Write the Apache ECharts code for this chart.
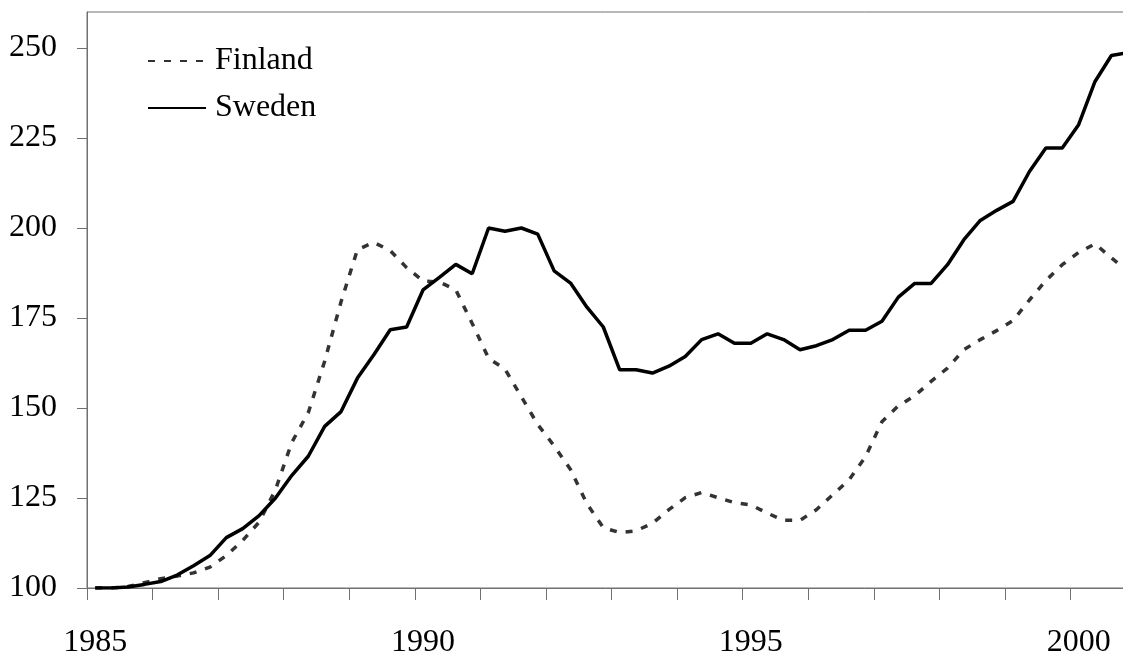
<!DOCTYPE html>
<html>
<head>
<meta charset="utf-8">
<script src="https://cdn.jsdelivr.net/npm/echarts@6/dist/echarts.min.js"></script>
<style>
html,body{margin:0;padding:0;background:#fff;}
#chart{width:1123px;height:659px;}
</style>
</head>
<body>
<div id="chart"></div>
<script>
// Quarterly categories 1985Q1 - 2000Q4
const quarters = [
'1985Q1','1985Q2','1985Q3','1985Q4','1986Q1','1986Q2','1986Q3','1986Q4',
'1987Q1','1987Q2','1987Q3','1987Q4','1988Q1','1988Q2','1988Q3','1988Q4',
'1989Q1','1989Q2','1989Q3','1989Q4','1990Q1','1990Q2','1990Q3','1990Q4',
'1991Q1','1991Q2','1991Q3','1991Q4','1992Q1','1992Q2','1992Q3','1992Q4',
'1993Q1','1993Q2','1993Q3','1993Q4','1994Q1','1994Q2','1994Q3','1994Q4',
'1995Q1','1995Q2','1995Q3','1995Q4','1996Q1','1996Q2','1996Q3','1996Q4',
'1997Q1','1997Q2','1997Q3','1997Q4','1998Q1','1998Q2','1998Q3','1998Q4',
'1999Q1','1999Q2','1999Q3','1999Q4','2000Q1','2000Q2','2000Q3','2000Q4'
];
const xTickLabels = ['1985','1990','1995','2000'];
const yTicks = [100,125,150,175,200,225,250];

const finland = [
100,100,100.4,101.5,102.6,103.3,104.2,105.8,
109,113.2,118.3,127.3,140.5,148.7,163,179.5,
194,196,193.7,189,185.3,185,182.8,173.5,
163.8,160.8,153.1,145.4,139.5,132.9,123.4,116.75,
115.4,115.9,118,121.75,125.1,126.5,125.1,123.7,
123.1,120.8,118.8,118.8,121.75,125.9,130.1,136.5,
146.2,150.6,153.4,157.4,161.1,166.2,169,171.5,
174.3,180,185.4,189.8,193.2,195.6,191.7,188
];
const sweden = [
100,100,100.3,101,101.8,103.6,106.2,109,
114,116.5,120.1,125,131.3,136.6,144.9,149,
158.3,164.8,171.75,172.5,182.8,186.3,189.9,187.3,
200,199.1,200,198.3,188.1,184.7,178,172.5,
160.6,160.6,159.7,161.6,164.3,169,170.6,168,
168,170.6,169,166.2,167.3,169,171.6,171.6,
174.1,180.8,184.6,184.6,189.8,196.75,202.1,204.9,
207.4,215.7,222.2,222.2,228.7,240.7,247.9,248.7
];

const FONT = "'Liberation Serif','Times New Roman',serif";
const axisGray = '#707070';

const chart = echarts.init(document.getElementById('chart'), null, {renderer:'canvas'});
chart.setOption({
  animation: false,
  backgroundColor: '#ffffff',
  textStyle: {fontFamily: FONT, color: '#000'},
  grid: {
    left: 87, top: 12, right: -13, bottom: 71,
    outerBoundsMode: 'none', containLabel: false,
    show: true, borderColor: axisGray, borderWidth: 1, backgroundColor: 'transparent'
  },
  legend: {
    orient: 'vertical',
    left: 142, top: 40,
    itemWidth: 58, itemHeight: 14, itemGap: 15,
    itemStyle: {opacity: 0},
    textStyle: {fontFamily: FONT, fontSize: 32, color: '#000', padding: [0,0,0,4]},
    data: ['Finland','Sweden']
  },
  xAxis: {
    type: 'category',
    data: quarters,
    boundaryGap: true,
    axisLine: {lineStyle: {color: axisGray, width: 1}},
    axisTick: {show: true, interval: 3, length: 12, inside: false, lineStyle: {color: axisGray, width: 1}},
    axisLabel: {
      interval: function (idx, val) {
        return val.endsWith('Q1') && xTickLabels.indexOf(val.slice(0,4)) >= 0;
      },
      formatter: function (val) { return val.slice(0,4); },
      fontFamily: FONT, fontSize: 32, color: '#000', margin: 39
    },
    splitLine: {show: false}
  },
  yAxis: {
    type: 'value',
    min: 100, max: 260, interval: 25,
    axisLine: {show: true, lineStyle: {color: axisGray, width: 1}},
    axisTick: {show: true, length: 10, lineStyle: {color: axisGray, width: 1}, customValues: yTicks},
    axisLabel: {fontFamily: FONT, fontSize: 32, color: '#000', margin: 30, padding: [8,0,0,0], customValues: yTicks},
    splitLine: {show: false}
  },
  series: [
    {
      name: 'Finland', type: 'line', data: finland,
      symbol: 'none', smooth: false,
      lineStyle: {color: '#333333', width: 3.5, type: [7, 9]},
      itemStyle: {color: '#333333'}
    },
    {
      name: 'Sweden', type: 'line', data: sweden,
      symbol: 'none', smooth: false,
      lineStyle: {color: '#000000', width: 3.5, type: 'solid'},
      itemStyle: {color: '#000000'}
    }
  ]
});
</script>
</body>
</html>
